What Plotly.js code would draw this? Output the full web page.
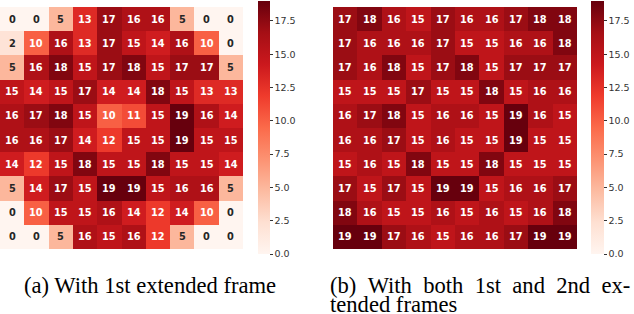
<!DOCTYPE html>
<html>
<head>
<meta charset="utf-8">
<script src="https://cdn.plot.ly/plotly-3.0.1.min.js"></script>
<style>html,body{margin:0;padding:0;background:#fff;}#chart{width:634px;height:314px;}</style>
</head>
<body>
<div id="chart"></div>
<script>
// Grid indices (columns / rows)
const cols = [0,1,2,3,4,5,6,7,8,9];
const rows = [0,1,2,3,4,5,6,7,8,9];

// (a) With 1st extended frame
const gridA = [
  [0,0,5,13,17,16,16,5,0,0],
  [2,10,16,13,17,15,14,16,10,0],
  [5,16,18,15,17,18,15,17,17,5],
  [15,14,15,17,14,14,18,15,13,13],
  [16,17,18,15,10,11,15,19,16,14],
  [16,16,17,14,12,15,15,19,15,15],
  [14,12,15,18,15,15,18,15,15,14],
  [5,14,17,15,19,19,15,16,16,5],
  [0,10,15,15,16,14,12,14,10,0],
  [0,0,5,16,15,16,12,5,0,0]
];

// (b) With both 1st and 2nd extended frames
const gridB = [
  [17,18,16,15,17,16,16,17,18,18],
  [17,16,16,16,17,15,15,16,16,18],
  [17,16,18,15,17,18,15,17,17,17],
  [15,15,15,17,15,15,18,15,16,16],
  [16,17,18,15,16,16,15,19,16,15],
  [16,16,17,15,16,15,15,19,15,15],
  [15,16,15,18,15,15,18,15,15,15],
  [17,15,17,15,19,19,15,16,16,17],
  [18,16,15,15,16,15,16,15,16,18],
  [19,19,17,16,15,16,16,17,19,19]
];

const cbTickVals = [0,2.5,5,7.5,10,12.5,15,17.5];
const cbTickText = ["0.0","2.5","5.0","7.5","10.0","12.5","15.0","17.5"];
const captionA = "(a) With 1st extended frame";
const captionB1 = "(b) With both 1st and 2nd ex-";
const captionB2 = "tended frames";

const W = 634, H = 314;
const reds = [
  [0.0,'#fff5f0'],[0.125,'#fee0d2'],[0.25,'#fcbba1'],[0.375,'#fc9272'],
  [0.5,'#fb6a4a'],[0.625,'#ef3b2c'],[0.75,'#cb181d'],[0.875,'#a50f15'],[1.0,'#67000d']
];
const ZMAX = 19;

function cb(xpx, thick) {
  return {
    x: xpx / W, xanchor: 'left', y: (H - 127.5) / H, yanchor: 'middle',
    len: 253, lenmode: 'pixels', thickness: thick, thicknessmode: 'pixels',
    outlinewidth: 0, xpad: 0, ypad: 0,
    tickmode: 'array', tickvals: cbTickVals, ticktext: cbTickText,
    ticks: 'outside', ticklen: 3, tickwidth: 1, tickcolor: '#333',
    tickfont: {family: 'DejaVu Sans', size: 9.5, color: '#333'}
  };
}

const traces = [
  {type: 'heatmap', x: cols, y: rows, z: gridA, zmin: 0, zmax: ZMAX,
   colorscale: reds, xaxis: 'x', yaxis: 'y', colorbar: cb(258, 12), hoverinfo: 'none'},
  {type: 'heatmap', x: cols, y: rows, z: gridB, zmin: 0, zmax: ZMAX,
   colorscale: reds, xaxis: 'x2', yaxis: 'y2', colorbar: cb(591, 13), hoverinfo: 'none'}
];

const annotations = [];
function addCells(grid, xr, yr) {
  grid.forEach((row, r) => row.forEach((v, c) => {
    annotations.push({x: cols[c], y: rows[r], xref: xr, yref: yr, text: '<b>' + v + '</b>',
      showarrow: false, font: {family: 'DejaVu Sans', size: 9.8, color: v <= 7 ? '#262626' : '#ffffff'}});
  }));
}
addCells(gridA, 'x', 'y');
addCells(gridB, 'x2', 'y2');

// justify line (b) by widening the word gaps
const justify = (s) => s.split(' ').join(' \u00A0');

const capFont = {family: 'Liberation Serif, Times New Roman, serif', size: 22.6, color: '#000'};
annotations.push({x: 22 / W, y: (H - 285) / H, xref: 'paper', yref: 'paper', xanchor: 'left', yanchor: 'middle',
  text: captionA, showarrow: false, font: capFont});
annotations.push({x: 328 / W, y: (H - 285) / H, xref: 'paper', yref: 'paper', xanchor: 'left', yanchor: 'middle',
  text: justify(captionB1), showarrow: false, font: capFont});
annotations.push({x: 328 / W, y: (H - 304) / H, xref: 'paper', yref: 'paper', xanchor: 'left', yanchor: 'middle',
  text: captionB2, showarrow: false, font: capFont});

const ax = (d) => ({domain: d, showticklabels: false, ticks: '', showgrid: false, zeroline: false, showline: false});
const yd = [(H - 249) / H, (H - 7) / H];
const layout = {
  width: W, height: H, margin: {l: 0, r: 0, t: 0, b: 0},
  paper_bgcolor: '#fff', plot_bgcolor: '#fff', showlegend: false,
  xaxis: ax([0 / W, 243 / W]),
  yaxis: Object.assign(ax(yd), {autorange: 'reversed'}),
  xaxis2: Object.assign(ax([333 / W, 577 / W]), {anchor: 'y2'}),
  yaxis2: Object.assign(ax(yd), {autorange: 'reversed', anchor: 'x2'}),
  annotations: annotations
};

Plotly.newPlot('chart', traces, layout, {staticPlot: true, displayModeBar: false});
</script>
</body>
</html>
